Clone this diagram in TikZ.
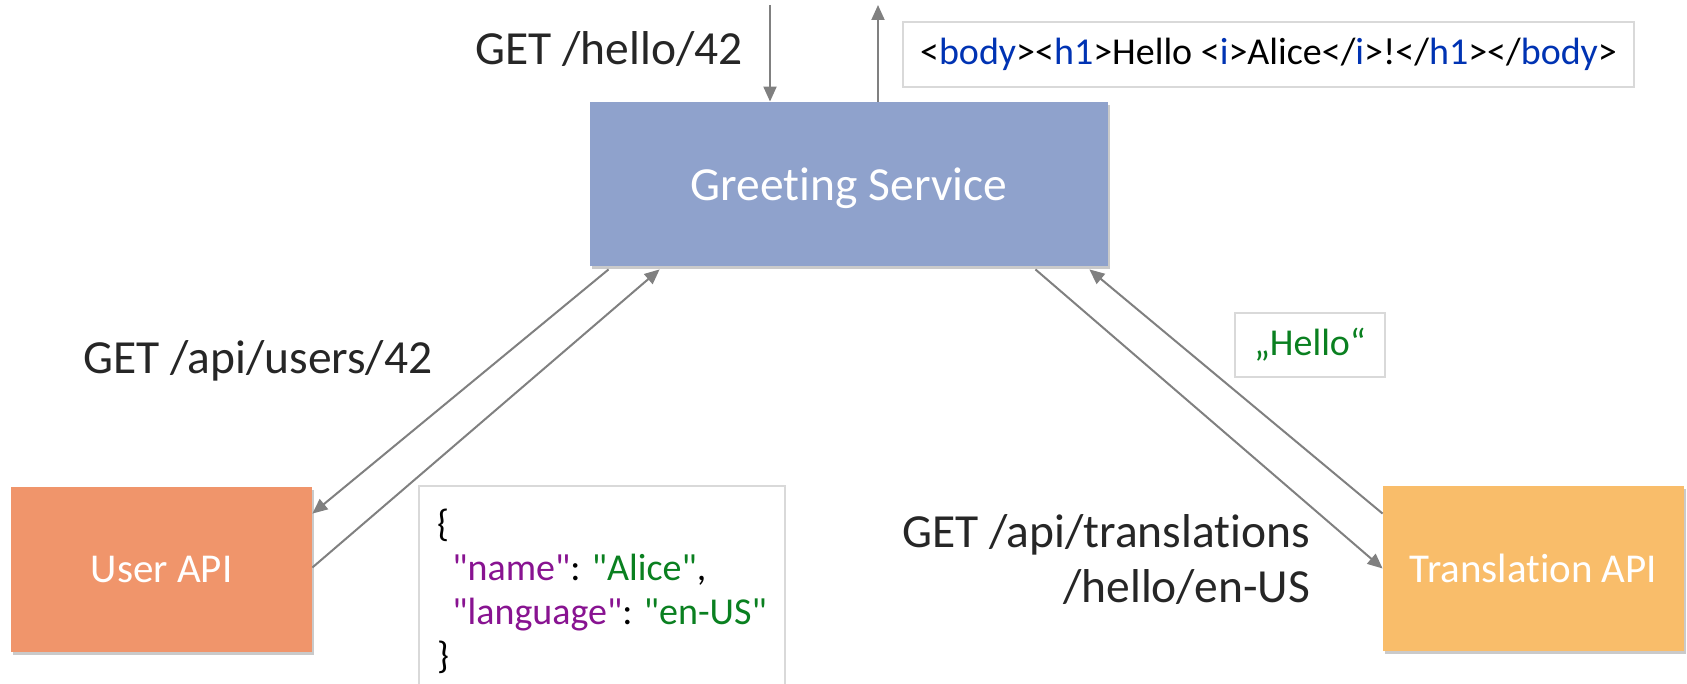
\documentclass[tikz,border=0pt]{standalone}
\usepackage{fontspec}
\setmainfont{Carlito}[Ligatures={CommonOff,TeXOff}]
\usepackage{xcolor}
\usetikzlibrary{arrows.meta,shadows}
\definecolor{greetblue}{HTML}{8FA2CC}
\definecolor{userorange}{HTML}{F0956B}
\definecolor{transorange}{HTML}{F9BD6A}
\definecolor{labelgray}{HTML}{262626}
\definecolor{linegray}{HTML}{808080}
\definecolor{framegray}{HTML}{D9D9D9}
\definecolor{keypurple}{HTML}{881391}
\definecolor{valgreen}{HTML}{0A8020}
\definecolor{tagblue}{HTML}{0033B3}

\begin{document}
\begin{tikzpicture}[x = 0.5pt, y = -0.5pt,
        >={Triangle[length=7.5pt, width=6.5pt]},
        service/.style = {rectangle, inner sep=0pt, text=white, font=\fontsize{20.5}{24}\selectfont,
            drop shadow={shadow xshift=1pt, shadow yshift=-1.5pt, opacity=0.35, fill=black!60}},
        payload/.style = {rectangle, draw=framegray, line width=0.8pt, fill=white, inner sep=0pt,
            font=\fontsize{19}{22}\selectfont},
        call/.style = {->, draw=linegray, line width=1pt},
        request/.style = {text=labelgray, font=\fontsize{23.75}{27.5}\selectfont}]

        \useasboundingbox (0, 0) rectangle (1687, 684);

        \node[service, fill=greetblue, minimum width=259pt, minimum height=82pt, text depth=0pt,
            font=\fontsize{23.75}{28}\selectfont] (greet) at (849, 184) {Greeting Service};
        \node[service, fill=userorange, minimum width=150.5pt, minimum height=82.5pt] (user) at (161.5, 569.5) {User API};
        \node[service, fill=transorange, minimum width=150.5pt, minimum height=82.5pt] (trans) at (1533.5, 568.5) {Translation API};

        \node[payload, minimum width=365.5pt, minimum height=32.5pt] (html) at (1268.5, 54.5)
            {<\textcolor{tagblue}{body}><\textcolor{tagblue}{h1}>Hello <\textcolor{tagblue}{i}>Alice</\textcolor{tagblue}{i}>!</\textcolor{tagblue}{h1}></\textcolor{tagblue}{body}>};
        \node[payload, minimum width=75pt, minimum height=32pt, text=valgreen] (hello) at (1310, 345) {„Hello“};
        \node[payload, minimum width=183pt, minimum height=105pt, align=left] (json) at (602, 591)
            {\{\\
             \hspace*{0.4em}\textcolor{keypurple}{"name"}: \textcolor{valgreen}{"Alice"},\\
             \hspace*{0.4em}\textcolor{keypurple}{"language"}: \textcolor{valgreen}{"en-US"}\\
             \}};

        \node[request, anchor=base east] (hellolabel) at (750, 65) {GET /hello/42};
        \node[request, anchor=base west] (userlabel) at (76, 373) {GET /api/users/42};
        \node[request, anchor=base east, align=right] (translabel) at (1317, 602) {GET /api/translations\\/hello/en-US};

        \coordinate (reqtop) at (770, 5);
        \coordinate (resptop) at (878, 5);
        \draw[call] (reqtop) -- (reqtop |- greet.north);
        \draw[call] (greet.north -| resptop) -- (resptop);

        \draw[call] ([xshift=9.5pt, yshift=-1.5pt]greet.south west) -- ([yshift=-13.5pt]user.north east);
        \draw[call] ([yshift=1pt]user.east) -- ([xshift=35pt, yshift=-1.5pt]greet.south west);
        \draw[call] ([xshift=-36.5pt, yshift=-1.5pt]greet.south east) -- (trans.west);
        \draw[call] ([yshift=-14pt]trans.north west) -- ([xshift=-9.5pt, yshift=-1.5pt]greet.south east);

    \end{tikzpicture}
\end{document}
